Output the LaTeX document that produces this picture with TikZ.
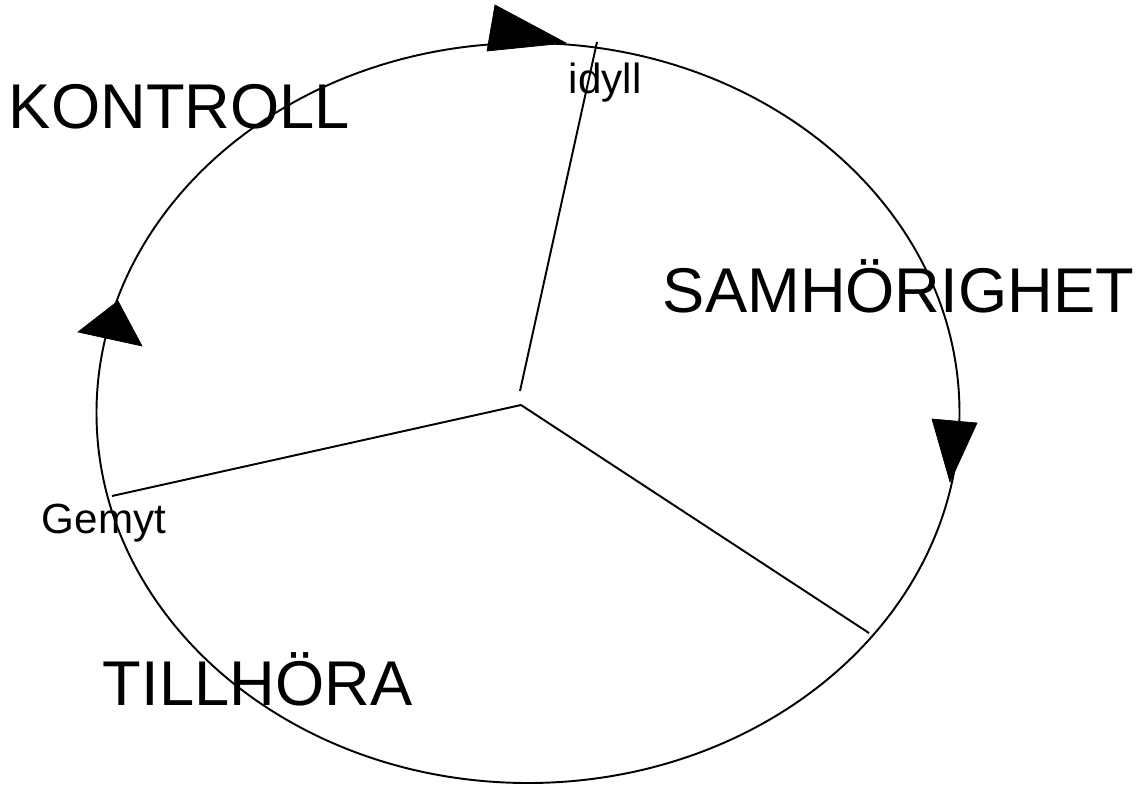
\documentclass[tikz,border=0pt]{standalone}
\usepackage{fontspec}
\setmainfont{Liberation Sans}
\tikzset{
  big/.style={anchor=base west, inner sep=0pt, font=\fontsize{36}{40}\selectfont},
  small/.style={anchor=base west, inner sep=0pt, font=\fontsize{24}{28}\selectfont},
  tip/.style={fill=black, draw=black, line width=0.4pt}
}
\begin{document}
\begin{tikzpicture}[x=0.02cm, y=-0.02cm, line width=1.1pt]
   \useasboundingbox (0,0) rectangle (1146,785);
   \draw (528,413) ellipse [x radius=431.5, y radius=370];
   \coordinate (mid) at (521,405);
   \coordinate (midtop) at (520,391);
   \coordinate (idyllend) at (597,42);
   \coordinate (gemytend) at (112,496);
   \coordinate (rightend) at (869,633);
   \draw (midtop) -- (idyllend);
   \draw (mid) -- (gemytend);
   \draw (mid) -- (rightend);
   \fill[tip] (495,5) -- (487,51) -- (566,43) -- cycle;
   \fill[tip] (118,301) -- (78,332) -- (142,346) -- cycle;
   \fill[tip] (932,419) -- (977,423) -- (950,482) -- cycle;
   \node[big] (kontroll) at (8,128) {KONTROLL};
   \node[big] (samhorighet) at (662,312) {SAMHÖRIGHET};
   \node[big] (tillhora) at (102,705) {TILLHÖRA};
   \node[small] (idyll) at (568,93) {idyll};
   \node[small] (gemyt) at (41,533) {Gemyt};
\end{tikzpicture}
\end{document}
